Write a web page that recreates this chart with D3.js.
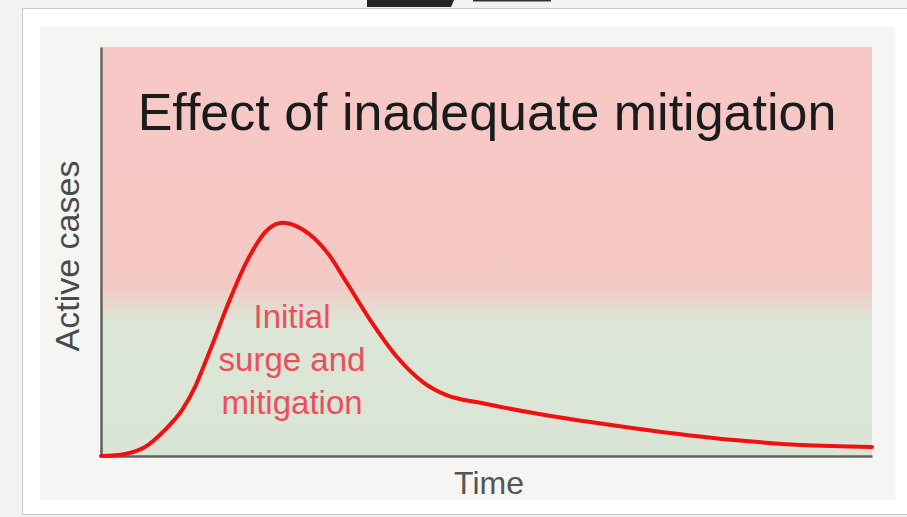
<!DOCTYPE html>
<html>
<head>
<meta charset="utf-8">
<script src="https://cdn.jsdelivr.net/npm/d3@7"></script>
<style>
  html, body { margin: 0; padding: 0; background: #f3f2f0; }
  svg { display: block; }
  text { font-family: "Liberation Sans", Arial, sans-serif; }
</style>
</head>
<body>
<svg id="chart"></svg>
<script>
// curve (time 0..100, active cases 0..100)
var time = [0, 3.1, 5.7, 8.3, 10.5, 12.2, 13.5, 14.6, 16.4, 19.0, 21.6, 23.6, 26.2, 29.4, 31.9, 34.9,
  38.4, 41.8, 44.9, 49.2, 56.1, 69.1, 82.1, 90.8, 100];
var cases = [0, 0.5, 2.2, 6.4, 11.2, 16.9, 22.8, 28.0, 36.8, 47.9, 55.3, 57.0, 55.3, 49.6, 42.3, 33.3,
  24.2, 18.0, 14.8, 13.0, 10.5, 6.8, 3.9, 2.7, 2.2];

var title = "Effect of inadequate mitigation";
var xLabel = "Time";
var yLabel = "Active cases";
var noteLines = ["Initial", "surge and", "mitigation"];

var width = 907;
var height = 517;
var plot = { left: 101, right: 872, top: 47, bottom: 456 };

var svg = d3.select("#chart").attr("width", width).attr("height", height);

// screenshot bits along the top edge
svg.append("path").attr("d", "M367,0 L454,0 L451,7 L367,7 Z").attr("fill", "#262626");
svg.append("rect").attr("x", 473).attr("y", 0).attr("width", 78).attr("height", 1.5).attr("fill", "#333");

// card + inner panel
svg.append("rect").attr("x", 22.5).attr("y", 8.5).attr("width", 900).attr("height", 506)
  .attr("fill", "#fff").attr("stroke", "#c9c9c9").attr("stroke-width", 1);
svg.append("rect").attr("x", 40).attr("y", 27).attr("width", 855).attr("height", 473).attr("fill", "#f5f6f4");

var defs = svg.append("defs");
var grad = defs.append("linearGradient").attr("id", "bg")
  .attr("x1", 0).attr("y1", 0).attr("x2", 0).attr("y2", 1);
grad.append("stop").attr("offset", "0%").attr("stop-color", "#f7c8c6");
grad.append("stop").attr("offset", "58%").attr("stop-color", "#f5c9c4");
grad.append("stop").attr("offset", "67%").attr("stop-color", "#dce5d6");
grad.append("stop").attr("offset", "100%").attr("stop-color", "#dbe5d5");

svg.append("rect")
  .attr("x", plot.left).attr("y", plot.top)
  .attr("width", plot.right - plot.left).attr("height", plot.bottom - plot.top)
  .attr("fill", "url(#bg)");

var xScale = d3.scaleLinear().domain([0, 100]).range([plot.left, plot.right]);
var yScale = d3.scaleLinear().domain([0, 100]).range([plot.bottom, plot.top]);

var xAxis = d3.axisBottom(xScale).tickValues([]).tickSizeOuter(0);
var yAxis = d3.axisLeft(yScale).tickValues([]).tickSizeOuter(0);

svg.append("g").attr("transform", "translate(0," + plot.bottom + ")").call(xAxis)
  .select(".domain").attr("stroke", "#5f625e").attr("stroke-width", 2.5);
svg.append("g").attr("transform", "translate(" + plot.left + ",0)").call(yAxis)
  .select(".domain").attr("stroke", "#5f625e").attr("stroke-width", 2.5);

var line = d3.line()
  .x((d, i) => xScale(time[i]))
  .y((d) => yScale(d))
  .curve(d3.curveMonotoneX);

svg.append("path")
  .datum(cases)
  .attr("d", line)
  .attr("fill", "none")
  .attr("stroke", "#f01010")
  .attr("stroke-width", 4)
  .attr("stroke-linecap", "round");

svg.append("text").attr("x", 487).attr("y", 130).attr("text-anchor", "middle")
  .attr("font-size", 52).attr("fill", "#1b1b1b").text(title);

svg.append("text").attr("x", 489).attr("y", 494).attr("text-anchor", "middle")
  .attr("font-size", 32).attr("fill", "#555").text(xLabel);

svg.append("text").attr("transform", "translate(79,256) rotate(-90)").attr("text-anchor", "middle")
  .attr("font-size", 34).attr("fill", "#4a4a4a").text(yLabel);

svg.append("g").selectAll("text").data(noteLines).enter().append("text")
  .attr("x", 292)
  .attr("y", (d, i) => 328 + i * 43)
  .attr("text-anchor", "middle")
  .attr("font-size", 33)
  .attr("fill", "#ec4f5b")
  .text((d) => d);
</script>
</body>
</html>
